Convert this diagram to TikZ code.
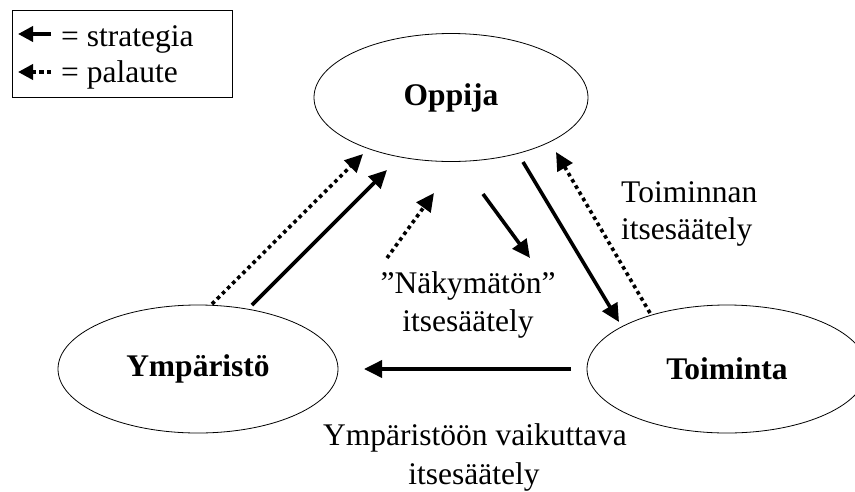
\documentclass[tikz,border=0pt]{standalone}
\usepackage{fontspec}
\setmainfont{Liberation Serif}
\usetikzlibrary{arrows.meta,shapes.geometric}
\begin{document}
\begin{tikzpicture}[x=1pt,y=-1pt,
  actor/.style={draw,ellipse,line width=0.8pt,minimum width=#1,minimum height=128pt,
    inner sep=0pt,font=\fontsize{31.5}{31.5}\selectfont\bfseries},
  strat/.style={line width=3.6pt,-{Triangle[length=18pt,width=17pt]}},
  fb/.style={line width=3.6pt,dash pattern=on 3.6pt off 3.6pt,-{Triangle[length=18pt,width=17pt]}},
  lbl/.style={font=\fontsize{31.5}{31.5}\selectfont,inner sep=0pt}]
\useasboundingbox (0,0) rectangle (855,491);
\clip (0,0) rectangle (855,491);

% legend
\node[draw,line width=0.8pt,minimum width=220pt,minimum height=87pt,anchor=north west,inner sep=0pt] (legend) at (12,10) {};
\coordinate (ls1) at (51,34);
\coordinate (le1) at (18,34);
\coordinate (ls2) at (51,72);
\coordinate (le2) at (18,72);
\draw[line width=3.6pt,-{Triangle[length=15pt,width=15pt]}] (ls1) -- (le1);
\draw[line width=3.6pt,dash pattern=on 4.5pt off 3pt,-{Triangle[length=15pt,width=15pt]}] (ls2) -- (le2);
\node[lbl,anchor=base west] (t1) at (61,46) {= strategia};
\node[lbl,anchor=base west] (t2) at (61,82) {= palaute};

% the three actors
\node[actor=274pt] (opp) at (451,97.5) {Oppija};
\node[actor=280pt] (ymp) at (198,369) {Ympäristö};
\node[actor=280pt] (toi) at (727,369) {Toiminta};

% connector end points
\coordinate (a1s) at (252,305); \coordinate (a1e) at (387,170);
\coordinate (f1s) at (212,304); \coordinate (f1e) at (363,154);
\coordinate (f2s) at (387,258); \coordinate (f2e) at (434,193);
\coordinate (a2s) at (483,194); \coordinate (a2e) at (530,258);
\coordinate (a3s) at (523,162); \coordinate (a3e) at (619,322);
\coordinate (f3s) at (650,313); \coordinate (f3e) at (556,152);
\coordinate (a4s) at (571,369); \coordinate (a4e) at (364,369);

\draw[fb] (f1s) -- (f1e);
\draw[strat] (a1s) -- (a1e);
\draw[fb] (f2s) -- (f2e);
\draw[strat] (a2s) -- (a2e);
\draw[strat] (a3s) -- (a3e);
\draw[fb] (f3s) -- (f3e);
\draw[strat] (a4s) -- (a4e);

% labels
\node[lbl,anchor=base west] (lt1) at (621,202) {Toiminnan};
\node[lbl,anchor=base west] (lt2) at (621,239) {itsesäätely};
\node[lbl,anchor=base] (ln1) at (468,293) {”Näkymätön”};
\node[lbl,anchor=base] (ln2) at (468,331) {itsesäätely};
\node[lbl,anchor=base] (ly1) at (475,445) {Ympäristöön vaikuttava};
\node[lbl,anchor=base] (ly2) at (474,484) {itsesäätely};
\end{tikzpicture}
\end{document}
